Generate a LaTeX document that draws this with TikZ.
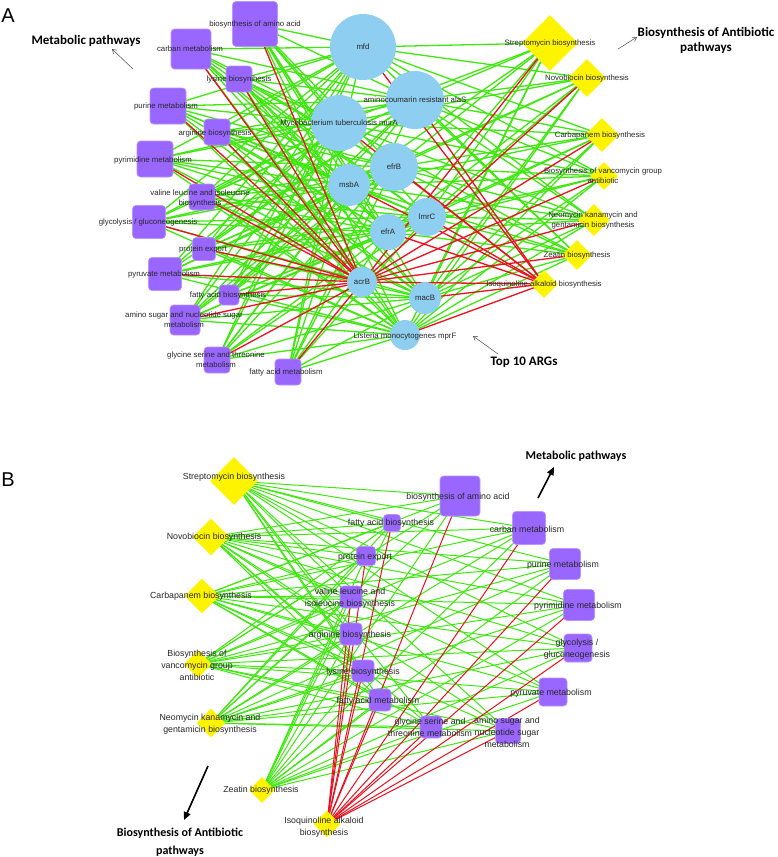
\documentclass[tikz,border=0pt]{standalone}
\usepackage{fontspec}
\setmainfont{Liberation Sans}
\newfontfamily\annfont{Carlito}
\usetikzlibrary{shapes.geometric,arrows.meta}
\definecolor{argblue}{RGB}{142,206,240}
\definecolor{metpurple}{RGB}{153,102,255}
\definecolor{metborder}{RGB}{185,150,255}
\definecolor{abxyellow}{RGB}{255,244,0}
\definecolor{egreen}{RGB}{64,232,16}
\definecolor{ered}{RGB}{236,16,32}
\definecolor{lblgray}{RGB}{40,40,40}
\pgfdeclarelayer{edges}
\pgfsetlayers{edges,main}
\tikzset{
  argnode/.style={circle,fill=argblue,inner sep=0pt,minimum size=#1},
  metnode/.style={rectangle,rounded corners=3.5pt,fill=metpurple,draw=metborder,line width=0.6pt,inner sep=0pt,minimum size=#1},
  abxnode/.style={diamond,fill=abxyellow,inner sep=0pt,minimum size=#1},
  lblA/.style={font=\fontsize{7.8}{10}\selectfont,text=lblgray,align=center,inner sep=0pt},
  lblB/.style={font=\fontsize{8.8}{12}\selectfont,text=lblgray,align=center,inner sep=0pt},
  annA/.style={font=\annfont\bfseries\fontsize{13}{15}\selectfont,align=center,inner sep=0pt},
  annB/.style={font=\annfont\bfseries\fontsize{12}{18}\selectfont,align=center,inner sep=0pt},
  panel/.style={font=\fontsize{20}{21}\selectfont,inner sep=0pt},
  gA/.style={draw=egreen,line width=1.3pt},
  rA/.style={draw=ered,line width=1.3pt},
  gB/.style={draw=egreen,line width=1.0pt},
  rB/.style={draw=ered,line width=1.0pt},
  thinarrow/.style={draw=black!70,line width=0.5pt,-{Straight Barb[length=4pt,width=5pt]}},
  thickarrow/.style={draw=black,line width=1.6pt,-{Triangle[length=8pt,width=7pt]}}
}
\begin{document}
\begin{tikzpicture}[x=1pt,y=-1pt]
\useasboundingbox (0,0) rectangle (778,857);
% ---------------- Panel A ----------------
\node[panel] (pA) at (8,16) {A};
% ARGs
\node[argnode=66] (mfd) at (363,47) {};
\node[argnode=58] (alaS) at (415,100) {};
\node[argnode=56] (murA) at (339,123) {};
\node[argnode=48] (efrB) at (394,167) {};
\node[argnode=42] (msbA) at (349,185) {};
\node[argnode=38] (lmrC) at (427,217) {};
\node[argnode=36] (efrA) at (388,232) {};
\node[argnode=30] (acrB) at (362,282) {};
\node[argnode=32] (macB) at (425,298) {};
\node[argnode=30] (mprF) at (405,335) {};
% metabolic pathways
\node[metnode=45] (aAA) at (255,24) {};
\node[metnode=40] (aCM) at (191,49) {};
\node[metnode=26] (aLY) at (239,79) {};
\node[metnode=36] (aPU) at (168,106) {};
\node[metnode=26] (aAR) at (217,132) {};
\node[metnode=36] (aPY) at (155,159) {};
\node[metnode=26] (aVL) at (202,197) {};
\node[metnode=33] (aGG) at (149,222) {};
\node[metnode=23] (aPE) at (204,249) {};
\node[metnode=33] (aPV) at (165,274) {};
\node[metnode=20] (aFB) at (229,295) {};
\node[metnode=30] (aAS) at (185,320) {};
\node[metnode=26] (aGS) at (217,360) {};
\node[metnode=26] (aFM) at (288,372) {};
% antibiotic pathways
\node[abxnode=56] (aST) at (550,43) {};
\node[abxnode=38] (aNO) at (587,78) {};
\node[abxnode=34] (aCA) at (602,135) {};
\node[abxnode=28] (aVA) at (604,176) {};
\node[abxnode=32] (aNE) at (594,220) {};
\node[abxnode=30] (aZE) at (577,255) {};
\node[abxnode=28] (aIQ) at (544,284) {};
% labels A
\node[lblA] (mfdl) at (363,47) {mfd};
\node[lblA] (alaSl) at (415,100) {aminocoumarin resistant alaS};
\node[lblA] (murAl) at (339,123) {Mycobacterium tuberculosis murA};
\node[lblA] (efrBl) at (394,167) {efrB};
\node[lblA] (msbAl) at (349,185) {msbA};
\node[lblA] (lmrCl) at (427,217) {lmrC};
\node[lblA] (efrAl) at (388,232) {efrA};
\node[lblA] (acrBl) at (362,282) {acrB};
\node[lblA] (macBl) at (425,298) {macB};
\node[lblA] (mprFl) at (405,336) {Listeria monocytogenes mprF};
\node[lblA] (aAAl) at (255,24) {biosynthesis of amino acid};
\node[lblA] (aCMl) at (190,49) {carban metabolism};
\node[lblA] (aLYl) at (239,79) {lysine biosynihesis};
\node[lblA] (aPUl) at (166,106) {purine metabolism};
\node[lblA] (aARl) at (215,133) {arginine biosynthesis};
\node[lblA] (aPYl) at (153,160) {pyrimidine metabolism};
\node[lblA] (aVLl) at (200,198) {valine leucine and isoleucine\\biosynthesis};
\node[lblA] (aGGl) at (148,222) {glycolysis / gluconeogenesis};
\node[lblA] (aPEl) at (203,249) {protein export};
\node[lblA] (aPVl) at (164,274) {pyruvate metabolism};
\node[lblA] (aFBl) at (228,295) {fatty acid biosynthesis};
\node[lblA] (aASl) at (184,320) {amino sugar and nucleotide sugar\\metabolism};
\node[lblA] (aGSl) at (216,360) {glycine serine and threonine\\metabolism};
\node[lblA] (aFMl) at (286,372) {fatty acid metabolism};
\node[lblA] (aSTl) at (550,43) {Streptomycin biosynthesis};
\node[lblA] (aNOl) at (587,78) {Novobiocin biosynthesis};
\node[lblA] (aCAl) at (600,135) {Carbapanem biosynthesis};
\node[lblA] (aVAl) at (603,176) {Biosynthesis of vancomycin group\\antibiotic};
\node[lblA] (aNEl) at (593,220) {Neomycin kanamycin and\\gentamicin biosynthesis};
\node[lblA] (aZEl) at (577,255) {Zeatin biosynthesis};
\node[lblA] (aIQl) at (544,284) {Isoquinoline alkaloid biosynthesis};
% annotations A
\node[annA] (annMA) at (86,41) {Metabolic pathways};
\node[annA] (annBA) at (706,40) {Biosynthesis of Antibiotic\\pathways};
\node[annA] (annTA) at (524,362) {Top 10 ARGs};
\coordinate (m1s) at (133,69); \coordinate (m1e) at (112,49);
\coordinate (b1s) at (618,49); \coordinate (b1e) at (637,37);
\coordinate (t1s) at (498,354); \coordinate (t1e) at (473,336);
\draw[thinarrow] (m1s) -- (m1e);
\draw[thinarrow] (b1s) -- (b1e);
\draw[thinarrow] (t1s) -- (t1e);
% ---------------- Panel B ----------------
\node[panel] (pB) at (8,480) {B};
\node[abxnode=48] (bST) at (234,481) {};
\node[abxnode=37] (bNO) at (211,537) {};
\node[abxnode=35] (bCA) at (202,596) {};
\node[abxnode=28] (bVA) at (198,664) {};
\node[abxnode=29] (bNE) at (211,723) {};
\node[abxnode=26] (bZE) at (262,790) {};
\node[abxnode=27] (bIQ) at (327,824) {};
\node[metnode=40] (bAA) at (460,496) {};
\node[metnode=33] (bCM) at (529,528) {};
\node[metnode=31] (bPU) at (565,564) {};
\node[metnode=31] (bPY) at (579,605) {};
\node[metnode=28] (bGG) at (578,648) {};
\node[metnode=28] (bPV) at (553,692) {};
\node[metnode=25] (bAS) at (508,731) {};
\node[metnode=22] (bGS) at (431,727) {};
\node[metnode=22] (bFM) at (380,700) {};
\node[metnode=22] (bLY) at (363,671) {};
\node[metnode=22] (bAR) at (351,634) {};
\node[metnode=22] (bVL) at (351,597) {};
\node[metnode=19] (bPE) at (366,556) {};
\node[metnode=17] (bFB) at (392,523) {};
% labels B
\node[lblB] (bSTl) at (234,477) {Streptomycin biosynthesis};
\node[lblB] (bNOl) at (214,537) {Novobiocin biosynthesis};
\node[lblB] (bCAl) at (201,596) {Carbapanem biosynthesis};
\node[lblB] (bVAl) at (197,665) {Biosynthesis of\\vancomycin group\\antibiotic};
\node[lblB] (bNEl) at (210,724) {Neomycin kanamycin and\\gentamicin biosynthesis};
\node[lblB] (bZEl) at (261,790) {Zeatin biosynthesis};
\node[lblB] (bIQl) at (324,827) {Isoquinoline alkaloid\\biosynthesis};
\node[lblB] (bAAl) at (458,497) {biosynthesis of amino acid};
\node[lblB] (bCMl) at (527,529) {carban metabolism};
\node[lblB] (bPUl) at (563,565) {purine metabolism};
\node[lblB] (bPYl) at (578,606) {pyrimidine metabolism};
\node[lblB] (bGGl) at (577,649) {glycolysis /\\gluconeogenesis};
\node[lblB] (bPVl) at (551,693) {pyruvate metabolism};
\node[lblB] (bASl) at (507,732) {amino sugar and\\nucleotide sugar\\metabolism};
\node[lblB] (bGSl) at (430,727) {glycine serine and\\threonine metabolism};
\node[lblB] (bFMl) at (378,701) {fatty acid metabolism};
\node[lblB] (bLYl) at (363,672) {lysine biosynthesis};
\node[lblB] (bARl) at (350,635) {arginine biosynthesis};
\node[lblB] (bVLl) at (350,598) {valine leucine and\\isoleucine biosynthesis};
\node[lblB] (bPEl) at (365,557) {protein export};
\node[lblB] (bFBl) at (391,523) {fatty acid biosynthesis};
% annotations B
\node[annB] (annMB) at (576,456) {Metabolic pathways};
\node[annB] (annBB) at (180,842) {Biosynthesis of Antibiotic\\pathways};
\coordinate (m2s) at (538,498); \coordinate (m2e) at (554,467);
\coordinate (b2s) at (208,766); \coordinate (b2e) at (184,820);
\draw[thickarrow] (m2s) -- (m2e);
\draw[thickarrow] (b2s) -- (b2e);
% ---------------- Edges ----------------
\begin{pgfonlayer}{edges}
\fill[white] (0,0) rectangle (778,857);
\foreach \g in {mfd,alaS,murA,efrB,msbA,lmrC,efrA,macB,mprF}{
  \foreach \p in {aAA,aCM,aLY,aPU,aAR,aPY,aVL,aGG,aPE,aPV,aFB,aAS,aGS,aFM,aST,aNO,aCA,aVA,aNE,aZE}{
    \draw[gA] (\g.center) -- (\p.center);
  }
}
\foreach \p in {aAA,aCM,aLY,aPU,aAR,aPY,aVL,aGG,aPE,aPV,aFB,aAS,aGS,aFM,aST,aNO,aCA,aVA,aNE,aZE}{
  \draw[rA] (acrB.center) -- (\p.center);
}
\foreach \g in {mfd,alaS,murA,efrB,msbA,lmrC,efrA,acrB,macB,mprF}{
  \draw[rA] (\g.center) -- (aIQ.center);
}
\foreach \a in {bST,bNO,bCA,bVA,bNE,bZE}{
  \foreach \m in {bAA,bCM,bPU,bPY,bGG,bPV,bAS,bGS,bFM,bLY,bAR,bVL,bPE,bFB}{
    \draw[gB] (\a.center) -- (\m.center);
  }
}
\foreach \m in {bAA,bCM,bPU,bPY,bGG,bPV,bAS,bGS,bFM,bLY,bAR,bVL,bPE,bFB}{
  \draw[rB] (bIQ.center) -- (\m.center);
}
\end{pgfonlayer}
\end{tikzpicture}
\end{document}
